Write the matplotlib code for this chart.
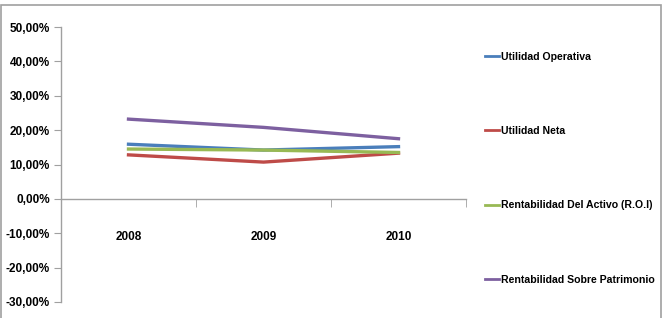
import numpy as np
import matplotlib.pyplot as plt
from matplotlib.patches import Rectangle
from matplotlib.ticker import FuncFormatter

plt.rcParams['font.family'] = ['Liberation Sans', 'DejaVu Sans']
plt.rcParams['font.weight'] = 'bold'

years = ['2008', '2009', '2010']
utilidad_operativa = [15.9, 14.2, 15.2]
utilidad_neta = [12.8, 10.7, 13.3]
rentabilidad_activo = [14.5, 14.2, 13.5]
rentabilidad_patrimonio = [23.2, 20.8, 17.5]

series = [
    ('Utilidad Operativa', utilidad_operativa, '#4a7ebb'),
    ('Utilidad Neta', utilidad_neta, '#be4b48'),
    ('Rentabilidad Del Activo (R.O.I)', rentabilidad_activo, '#98b954'),
    ('Rentabilidad Sobre Patrimonio', rentabilidad_patrimonio, '#7d60a0'),
]

W, H = 668, 318
fig = plt.figure(figsize=(W / 100, H / 100), dpi=100)
fig.patches.append(Rectangle((1 / W, -0.1), 660 / W, (H - 5) / H + 0.1,
                             transform=fig.transFigure, fill=False,
                             edgecolor='#a0a0a0', linewidth=1.2))

# plot area in pixels: x 61..466, y 27..302 (from top)
ax = fig.add_axes([61 / W, (H - 302) / H, 405 / W, 275 / H])
x = np.arange(len(years))
for name, vals, col in series:
    ax.plot(x, vals, color=col, linewidth=2.4, label=name)

ax.set_xlim(-0.5, 2.5)
ax.set_ylim(-30, 50)
ax.set_yticks(np.arange(-30, 51, 10))
ax.yaxis.set_major_formatter(FuncFormatter(lambda v, p: ('%.2f%%' % v).replace('.', ',')))
ax.set_xticks(x)
ax.set_xticklabels(years)
ax.set_xticks([0.5, 1.5, 2.5], minor=True)
ax.tick_params(axis='x', which='major', length=0, pad=23, labelsize=8.5)
ax.tick_params(axis='x', which='minor', length=6, color='#a0a0a0', direction='out')
ax.tick_params(axis='y', length=5, color='#a0a0a0', pad=3, labelsize=8.5)

ax.spines['top'].set_visible(False)
ax.spines['right'].set_visible(False)
ax.spines['bottom'].set_position(('data', 0))
for s in ('left', 'bottom'):
    ax.spines[s].set_color('#a0a0a0')
    ax.spines[s].set_linewidth(1)

handles, labels = ax.get_legend_handles_labels()
leg = fig.legend(handles, labels, loc='upper left', bbox_to_anchor=(476 / W, (H - 42) / H),
                 frameon=False, prop={'size': 7.6, 'weight': 'bold'},
                 labelspacing=6.1, handlelength=1.3, handletextpad=0.15)
for line in leg.get_lines():
    line.set_linewidth(2)

fig.savefig('out.png', dpi=100)
